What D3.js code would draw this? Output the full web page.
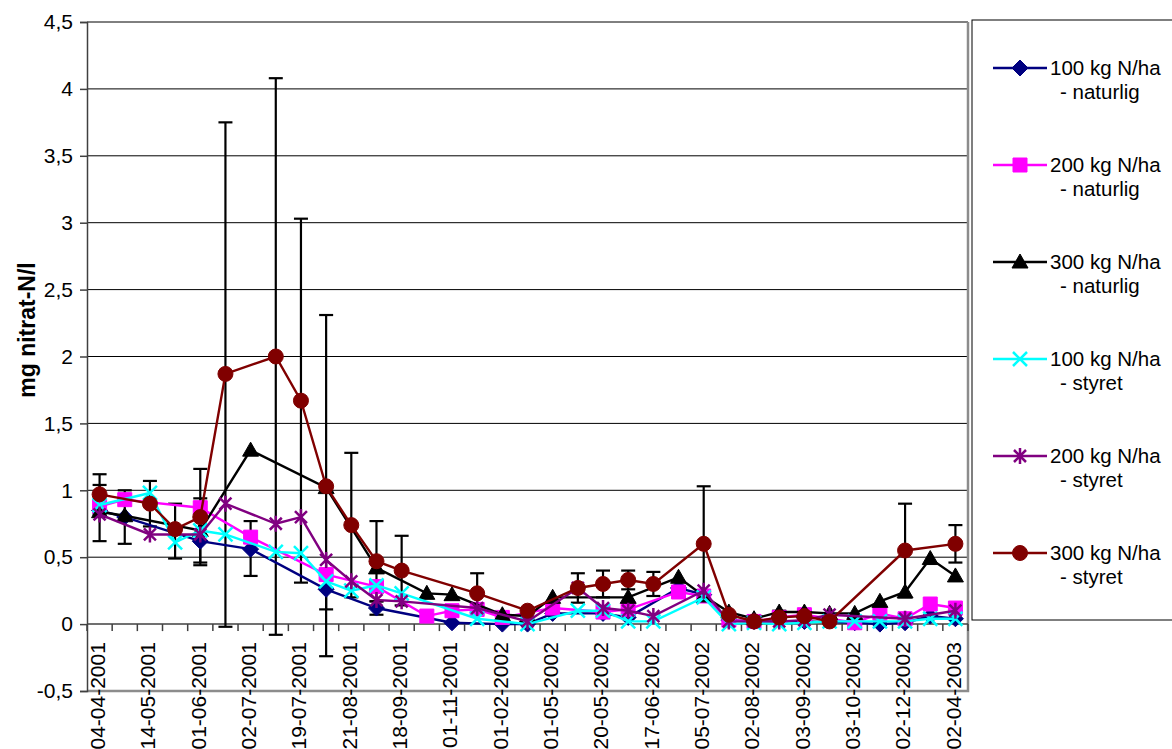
<!DOCTYPE html>
<html>
<head>
<meta charset="utf-8">
<script src="https://cdn.jsdelivr.net/npm/d3@7"></script>
<style>
  body { margin: 0; background: #fff; }
  text { font-family: Arial, "Liberation Sans", sans-serif; }
</style>
</head>
<body>
<div id="wrapper"></div>
<script>
// data
const nCats = 35
const tickLabels = [
  "04-04-2001", "14-05-2001", "01-06-2001", "02-07-2001", "19-07-2001", "21-08-2001",
  "18-09-2001", "01-11-2001", "01-02-2002", "01-05-2002", "20-05-2002", "17-06-2002",
  "05-07-2002", "02-08-2002", "03-09-2002", "03-10-2002", "02-12-2002", "02-04-2003"
]
const yTicks = [-0.5, 0, 0.5, 1, 1.5, 2, 2.5, 3, 3.5, 4, 4.5]

const _ = null
//                0     1     2     3     4     5     6     7     8     9    10    11    12    13    14    15    16    17    18    19    20    21    22    23    24    25    26    27    28    29    30    31    32    33    34
const n100nat = [0.85, 0.80, _,    _,    0.62, _,    0.56, _,    _,    0.26, _,    0.12, _,    _,    0.01, _,    0.00, 0.00, 0.08, _,    0.08, 0.05, _,    0.27, 0.22, 0.03, 0.02, _,    0.02, _,    0.01, 0.00, 0.01, 0.06, 0.04]
const n200nat = [0.88, 0.93, _,    _,    0.87, _,    0.65, _,    _,    0.37, _,    0.28, _,    0.06, 0.10, 0.11, 0.05, _,    0.12, _,    0.09, 0.11, _,    0.24, 0.21, 0.03, 0.02, 0.05, 0.07, _,    0.01, 0.08, 0.04, 0.15, 0.12]
const n300nat = [0.84, 0.81, _,    _,    0.70, _,    1.30, _,    _,    1.02, _,    0.42, _,    0.23, 0.22, _,    0.07, 0.06, 0.20, _,    _,    0.20, _,    0.35, 0.21, 0.09, 0.04, 0.09, 0.09, 0.08, 0.08, 0.17, 0.24, 0.49, 0.36]
const s100    = [0.89, _,    0.98, 0.61, 0.70, 0.67, _,    0.54, 0.53, 0.32, 0.25, 0.29, 0.23, _,    _,    0.04, _,    0.00, _,    0.10, 0.10, 0.02, 0.02, _,    0.20, 0.00, 0.01, 0.00, 0.01, 0.02, 0.02, 0.02, 0.02, 0.04, 0.04]
const s200    = [0.82, _,    0.67, _,    0.67, 0.90, _,    0.75, 0.80, 0.48, 0.32, 0.18, 0.17, _,    _,    0.12, _,    0.02, _,    0.27, 0.12, 0.10, 0.06, _,    0.25, 0.02, 0.02, 0.02, 0.03, 0.07, _,    _,    0.04, _,    0.10]
const s300    = [0.97, _,    0.90, 0.71, 0.80, 1.87, _,    2.00, 1.67, 1.03, 0.74, 0.47, 0.40, _,    _,    0.23, _,    0.10, _,    0.27, 0.30, 0.33, 0.30, _,    0.60, 0.07, 0.02, 0.05, 0.06, 0.02, _,    _,    0.55, _,    0.60]

const seriesNames = [
  ["100 kg N/ha", "- naturlig"],
  ["200 kg N/ha", "- naturlig"],
  ["300 kg N/ha", "- naturlig"],
  ["100 kg N/ha", "- styret"],
  ["200 kg N/ha", "- styret"],
  ["300 kg N/ha", "- styret"]
]
const seriesValues = [n100nat, n200nat, n300nat, s100, s200, s300]
const seriesColors = ["#000080", "#FF00FF", "#000000", "#00FFFF", "#800080", "#800000"]
const seriesMarkers = ["diamond", "square", "triangle", "x", "star", "circle"]

// error bars: category, low, high
const errCat  = [0,    0,    1,    2,    3,    4,    4,    5,     6,    7,     8,    9,     9,    10,   11,   11,   12,   15,   19,   20,   21,   22,   24,   27,   28,   32,   34]
const errLow  = [0.82, 0.62, 0.60, 0.73, 0.49, 0.44, 0.46, -0.02, 0.36, -0.08, 0.31, -0.24, 0.11, 0.20, 0.17, 0.07, 0.14, 0.08, 0.16, 0.20, 0.26, 0.21, 0.17, 0.01, 0.02, 0.20, 0.46]
const errHigh = [1.12, 1.04, 1.00, 1.07, 0.90, 1.16, 0.94, 3.75,  0.77, 4.08,  3.03, 2.31,  0.41, 1.28, 0.77, 0.17, 0.66, 0.38, 0.38, 0.40, 0.40, 0.39, 1.03, 0.10, 0.10, 0.90, 0.74]

// dimensions
const dimensions = {
  width: 1172,
  height: 749,
  plotLeft: 87,
  plotRight: 968,
  plotTop: 22,
  plotBottom: 691,
  fontSize: 21,
}

const svg = d3.select("#wrapper")
  .append("svg")
    .attr("width", dimensions.width)
    .attr("height", dimensions.height)

// scales
const xScale = d3.scaleBand()
  .domain(d3.range(nCats))
  .range([dimensions.plotLeft, dimensions.plotRight])
const xCenter = i => xScale(i) + xScale.bandwidth() / 2

const yScale = d3.scaleLinear()
  .domain([-0.5, 4.5])
  .range([dimensions.plotBottom, dimensions.plotTop])

// gridlines
svg.append("g")
  .selectAll("line")
  .data(yTicks.filter(d => d > 0))
  .join("line")
    .attr("x1", dimensions.plotLeft)
    .attr("x2", dimensions.plotRight)
    .attr("y1", d => yScale(d))
    .attr("y2", d => yScale(d))
    .attr("stroke", "#000")
    .attr("stroke-width", 1)

// plot border (bottom + right)
svg.append("path")
  .attr("d", `M${dimensions.plotLeft},${dimensions.plotBottom}H${dimensions.plotRight}V${dimensions.plotTop}`)
  .attr("fill", "none")
  .attr("stroke", "#8c8c8c")
  .attr("stroke-width", 2.5)

// y axis
const yAxis = d3.axisLeft(yScale)
  .tickValues(yTicks)
  .tickSize(7)
  .tickPadding(7)
  .tickFormat(d => String(d).replace(".", ","))
const yAxisGroup = svg.append("g")
  .attr("transform", `translate(${dimensions.plotLeft},0)`)
  .call(yAxis)
yAxisGroup.select(".domain").attr("stroke", "#404040").attr("stroke-width", 1.5)
yAxisGroup.selectAll(".tick line").attr("stroke", "#404040").attr("stroke-width", 1.5)
yAxisGroup.selectAll(".tick text")
  .attr("font-size", dimensions.fontSize)
  .attr("font-family", "Arial, 'Liberation Sans', sans-serif")
  .attr("fill", "#000")

// x axis at zero
const zeroY = yScale(0)
const xAxisGroup = svg.append("g")
xAxisGroup.append("line")
  .attr("x1", dimensions.plotLeft)
  .attr("x2", dimensions.plotRight)
  .attr("y1", zeroY)
  .attr("y2", zeroY)
  .attr("stroke", "#404040")
  .attr("stroke-width", 1.5)
xAxisGroup.selectAll(".x-tick")
  .data(d3.range(nCats + 1))
  .join("line")
    .attr("class", "x-tick")
    .attr("x1", d => dimensions.plotLeft + d * xScale.bandwidth())
    .attr("x2", d => dimensions.plotLeft + d * xScale.bandwidth())
    .attr("y1", zeroY)
    .attr("y2", zeroY + 7)
    .attr("stroke", "#404040")
    .attr("stroke-width", 1.5)
xAxisGroup.selectAll(".x-label")
  .data(tickLabels)
  .join("text")
    .attr("class", "x-label")
    .attr("transform", (d, i) => `translate(${xCenter(i * 2) - 2}, ${zeroY + 18}) rotate(-90)`)
    .attr("text-anchor", "end")
    .attr("dy", "0.35em")
    .attr("font-size", dimensions.fontSize)
    .text(d => d)

// y title
svg.append("text")
  .attr("transform", `translate(27, 330) rotate(-90)`)
  .attr("text-anchor", "middle")
  .attr("dy", "0.35em")
  .attr("font-size", 23)
  .attr("font-weight", "bold")
  .text("mg nitrat-N/l")

// marker shapes
function markerPath(type) {
  switch (type) {
    case "diamond": return "M0,-8L8,0L0,8L-8,0Z"
    case "square": return "M-7,-7H7V7H-7Z"
    case "triangle": return "M0,-8L8,6L-8,6Z"
    case "x": return "M-7,-7L7,7M7,-7L-7,7"
    case "star": return "M-6,-6L6,6M6,-6L-6,6M0,-8V8"
    case "circle": return d3.symbol(d3.symbolCircle, 177)()
  }
}
function drawMarker(sel, type, color) {
  const open = type == "x" || type == "star"
  sel.append("path")
    .attr("d", markerPath(type))
    .attr("fill", open ? "none" : color)
    .attr("stroke", color)
    .attr("stroke-width", open ? 2.5 : 1)
}

// error bars
const errGroup = svg.append("g")
errCat.forEach((c, i) => {
  const cx = xCenter(c)
  errGroup.append("line")
    .attr("x1", cx).attr("x2", cx)
    .attr("y1", yScale(errLow[i])).attr("y2", yScale(errHigh[i]))
    .attr("stroke", "#000").attr("stroke-width", 2.2)
  ;[errLow[i], errHigh[i]].forEach(v => {
    errGroup.append("line")
      .attr("x1", cx - 7).attr("x2", cx + 7)
      .attr("y1", yScale(v)).attr("y2", yScale(v))
      .attr("stroke", "#000").attr("stroke-width", 2.2)
  })
})

// series
const lineGenerator = d3.line()
  .x(d => xCenter(d.i))
  .y(d => yScale(d.v))

seriesValues.forEach((values, s) => {
  const points = values
    .map((v, i) => ({ i, v }))
    .filter(d => d.v !== null)
  const g = svg.append("g")
  g.append("path")
    .datum(points)
    .attr("d", lineGenerator)
    .attr("fill", "none")
    .attr("stroke", seriesColors[s])
    .attr("stroke-width", 2.4)
  points.forEach(d => {
    const m = g.append("g")
      .attr("transform", `translate(${xCenter(d.i)},${yScale(d.v)})`)
    drawMarker(m, seriesMarkers[s], seriesColors[s])
  })
})

// legend
const legend = svg.append("g")
legend.append("rect")
  .attr("x", 972)
  .attr("y", 20)
  .attr("width", 230)
  .attr("height", 600)
  .attr("fill", "#fff")
  .attr("stroke", "#000")
  .attr("stroke-width", 1)

seriesNames.forEach((name, s) => {
  const cy = 68 + s * 97
  const item = legend.append("g")
  item.append("line")
    .attr("x1", 993).attr("x2", 1047)
    .attr("y1", cy).attr("y2", cy)
    .attr("stroke", seriesColors[s])
    .attr("stroke-width", 2.4)
  const m = item.append("g").attr("transform", `translate(1020,${cy})`)
  drawMarker(m, seriesMarkers[s], seriesColors[s])
  item.append("text")
    .attr("x", 1050)
    .attr("y", cy)
    .attr("dy", "0.35em")
    .attr("font-size", 20.5)
    .text(name[0])
  item.append("text")
    .attr("x", 1060)
    .attr("y", cy + 24)
    .attr("dy", "0.35em")
    .attr("font-size", 20.5)
    .text(name[1])
})
</script>
</body>
</html>
